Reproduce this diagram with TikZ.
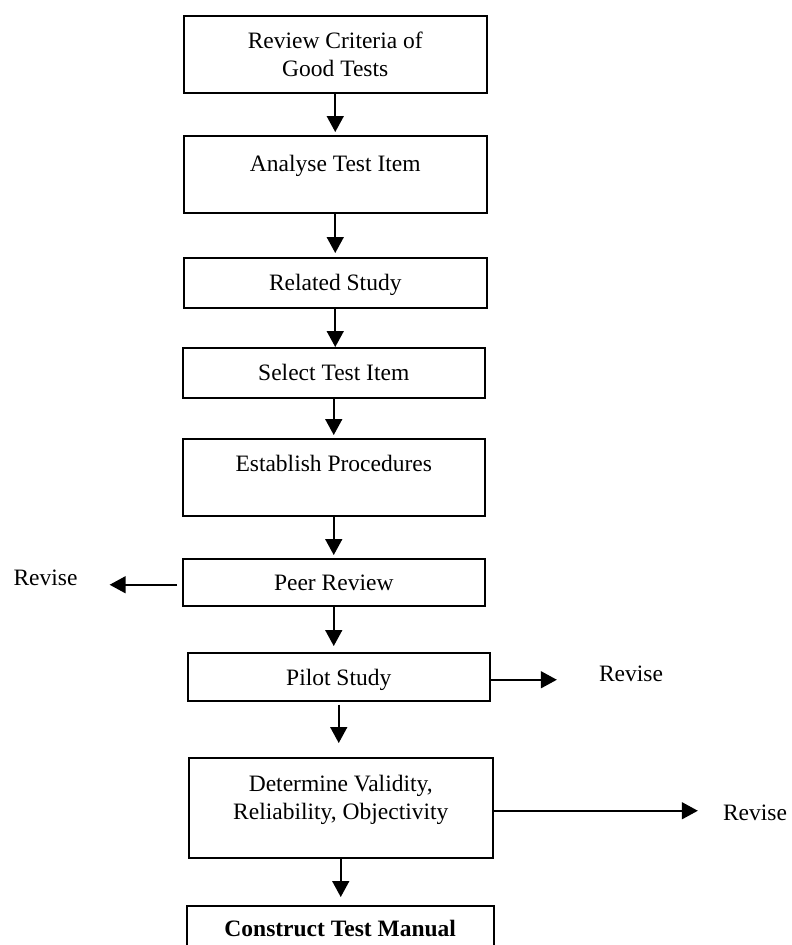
\documentclass[tikz,border=0pt]{standalone}
\usepackage{fontspec}
\setmainfont{Liberation Serif}
\usetikzlibrary{arrows.meta}
\newcommand\twoln[2]{\vtop{\halign{\hfil##\hfil\cr#1\cr#2\cr}}}
\begin{document}
\begin{tikzpicture}[x=1pt,y=-1pt,
  box/.style={draw, line width=1.5pt, inner xsep=0pt, inner ysep=0pt, anchor=north west,
              font=\fontsize{23.5}{28}\selectfont},
  arr/.style={line width=1.6pt, -{Triangle[width=17pt,length=16pt]}},
  lbl/.style={inner sep=0pt, anchor=base, font=\fontsize{23.5}{28}\selectfont}]
\useasboundingbox (0,0) rectangle (792,945);
\fill[white] (0,0) rectangle (792,945);
% boxes
\node[box, minimum width=303pt, text height=33pt, text depth=44pt] (b1) at (183,15) {\twoln{Review Criteria of}{Good Tests}};
\node[box, minimum width=303pt, text height=36pt, text depth=41pt] (b2) at (183,135) {Analyse Test Item};
\node[box, minimum width=303pt, text height=33pt, text depth=17pt] (b3) at (183,257) {Related Study};
\node[box, minimum width=302pt, text height=33pt, text depth=17pt] (b4) at (182,347) {Select Test Item};
\node[box, minimum width=302pt, text height=33pt, text depth=44pt] (b5) at (182,438) {Establish Procedures};
\node[box, minimum width=302pt, text height=32pt, text depth=15pt] (b6) at (182,558) {Peer Review};
\node[box, minimum width=302pt, text height=33pt, text depth=15pt] (b7) at (187,652) {Pilot Study};
\node[box, minimum width=304pt, text height=34pt, text depth=66pt] (b8) at (188,757) {\twoln{Determine Validity,}{Reliability, Objectivity}};
\node[box, minimum width=307pt, text height=31pt, text depth=60pt] (b9) at (186,905) {\textbf{Construct Test Manual}};
% revise labels
\node[lbl] (rv1) at (45.5,585.5) {Revise};
\node[lbl] (rv2) at (631,681) {Revise};
\node[lbl] (rv3) at (755,820) {Revise};
% vertical arrows
\draw[arr, shorten >=3pt] (b1.south) -- (b1.south |- b2.north);
\draw[arr, shorten >=4pt] (b2.south) -- (b2.south |- b3.north);
\draw[arr] (b3.south) -- (b3.south |- b4.north);
\draw[arr, shorten >=3pt] (b4.south) -- (b4.south |- b5.north);
\draw[arr, shorten >=3pt] (b5.south) -- (b5.south |- b6.north);
\draw[arr, shorten >=6pt] (b6.south) -- (b6.south |- b7.north);
\draw[arr, shorten <=3pt, shorten >=14pt] (b7.south) -- (b7.south |- b8.north);
\draw[arr, shorten >=8pt] (b8.south) -- (b8.south |- b9.north);
% horizontal arrows
\draw[arr, shorten <=5pt, shorten >=32pt] ([yshift=-2.5pt]b6.west) -- ([yshift=-2.5pt]b6.west -| rv1.east);
\draw[arr, shorten >=42pt] ([yshift=-3pt]b7.east) -- ([yshift=-3pt]b7.east -| rv2.west);
\draw[arr, shorten >=25pt] ([yshift=-3pt]b8.east) -- ([yshift=-3pt]b8.east -| rv3.west);
\end{tikzpicture}
\end{document}
